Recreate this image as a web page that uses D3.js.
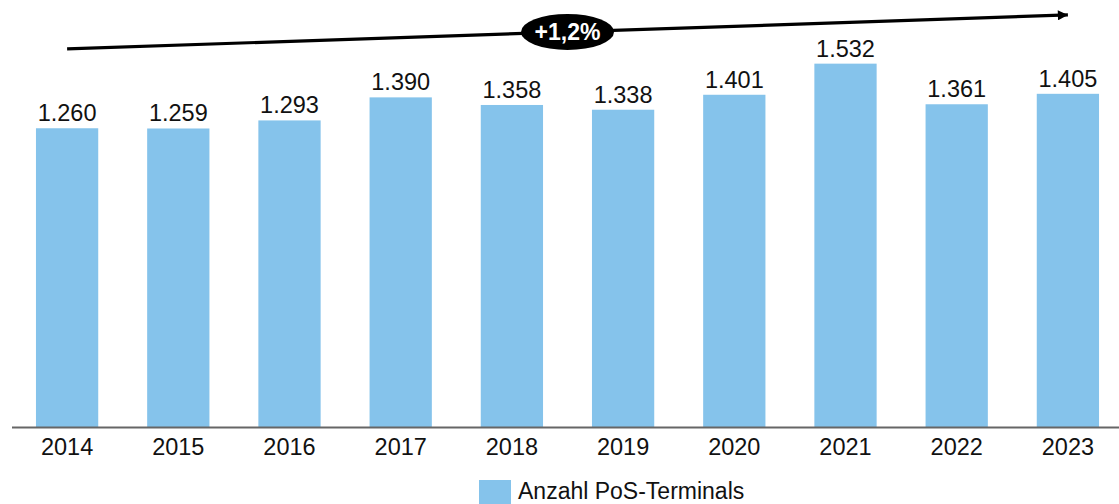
<!DOCTYPE html>
<html>
<head>
<meta charset="utf-8">
<script src="https://cdn.jsdelivr.net/npm/d3@7/dist/d3.min.js"></script>
<style>
  html, body { margin: 0; padding: 0; background: #fff; }
  svg { display: block; font-family: "Liberation Sans", Arial, sans-serif; }
</style>
</head>
<body>
<svg id="chart" width="1119" height="504"></svg>
<script>
const years = ["2014","2015","2016","2017","2018","2019","2020","2021","2022","2023"];
const terminals = [1260, 1259, 1293, 1390, 1358, 1338, 1401, 1532, 1361, 1405];
const valueLabels = ["1.260","1.259","1.293","1.390","1.358","1.338","1.401","1.532","1.361","1.405"];
const seriesName = ["Anzahl PoS-Terminals"];
const growthLabel = ["+1,2%"];
// trend arrow annotation: value-space endpoints (start year, end year)
const trendStart = [1594];
const trendEnd = [1737];

const W = 1119, H = 504;
const svg = d3.select("#chart");
const barColor = "#85C3EB";

const x = d3.scaleBand().domain(years).range([11.5, 1123.5]).paddingInner(0.44).paddingOuter(0.22);
const y = d3.scaleLinear().domain([0, 1800]).range([427.5, 0]);

// bars
svg.append("g").selectAll("rect").data(terminals).join("rect")
  .attr("x", (d, i) => x(years[i]))
  .attr("y", d => y(d))
  .attr("width", x.bandwidth())
  .attr("height", d => y(0) - y(d))
  .attr("fill", barColor);

// value labels
svg.append("g").selectAll("text").data(terminals).join("text")
  .attr("x", (d, i) => x(years[i]) + x.bandwidth() / 2)
  .attr("y", d => y(d) - 7)
  .attr("text-anchor", "middle")
  .attr("font-size", 23.5)
  .attr("fill", "#111")
  .text((d, i) => valueLabels[i]);

// x axis
const xAxis = d3.axisBottom(x).tickSize(0).tickPadding(11);
const gx = svg.append("g").attr("transform", `translate(0,${y(0)})`).call(xAxis);
gx.select(".domain").remove();
gx.selectAll("text").attr("font-size", 23.5).attr("fill", "#111").attr("font-family", "Liberation Sans, Arial, sans-serif");
svg.append("line")
  .attr("x1", 12).attr("x2", W)
  .attr("y1", y(0)).attr("y2", y(0))
  .attr("stroke", "#666").attr("stroke-width", 2);

// trend arrow
const defs = svg.append("defs");
defs.append("marker").attr("id", "ah")
  .attr("viewBox", "0 0 10 10").attr("refX", 10).attr("refY", 5)
  .attr("markerWidth", 11).attr("markerHeight", 10)
  .attr("markerUnits", "userSpaceOnUse")
  .attr("orient", "auto")
  .append("path").attr("d", "M0,0 L10,5 L0,10 Z").attr("fill", "#000");

const ax1 = x(years[0]) + x.bandwidth() / 2;
const ax2 = x(years[years.length - 1]) + x.bandwidth() / 2;
const ay1 = y(trendStart[0]), ay2 = y(trendEnd[0]);
svg.append("line")
  .attr("x1", ax1).attr("y1", ay1).attr("x2", ax2).attr("y2", ay2)
  .attr("stroke", "#000").attr("stroke-width", 3.2)
  .attr("marker-end", "url(#ah)");

const mx = (ax1 + ax2) / 2, my = (ay1 + ay2) / 2;
svg.append("ellipse").attr("cx", mx).attr("cy", my).attr("rx", 46.5).attr("ry", 18).attr("fill", "#000");
svg.append("text").attr("x", mx).attr("y", my + 8)
  .attr("text-anchor", "middle").attr("font-size", 23).attr("font-weight", "bold")
  .attr("fill", "#fff").text(growthLabel[0]);

// legend
const lg = svg.append("g");
lg.append("rect").attr("x", 479).attr("y", 480).attr("width", 32).attr("height", 32).attr("fill", barColor);
lg.append("text").attr("x", 518).attr("y", 499).attr("font-size", 23).attr("fill", "#111").text(seriesName[0]);
</script>
</body>
</html>
